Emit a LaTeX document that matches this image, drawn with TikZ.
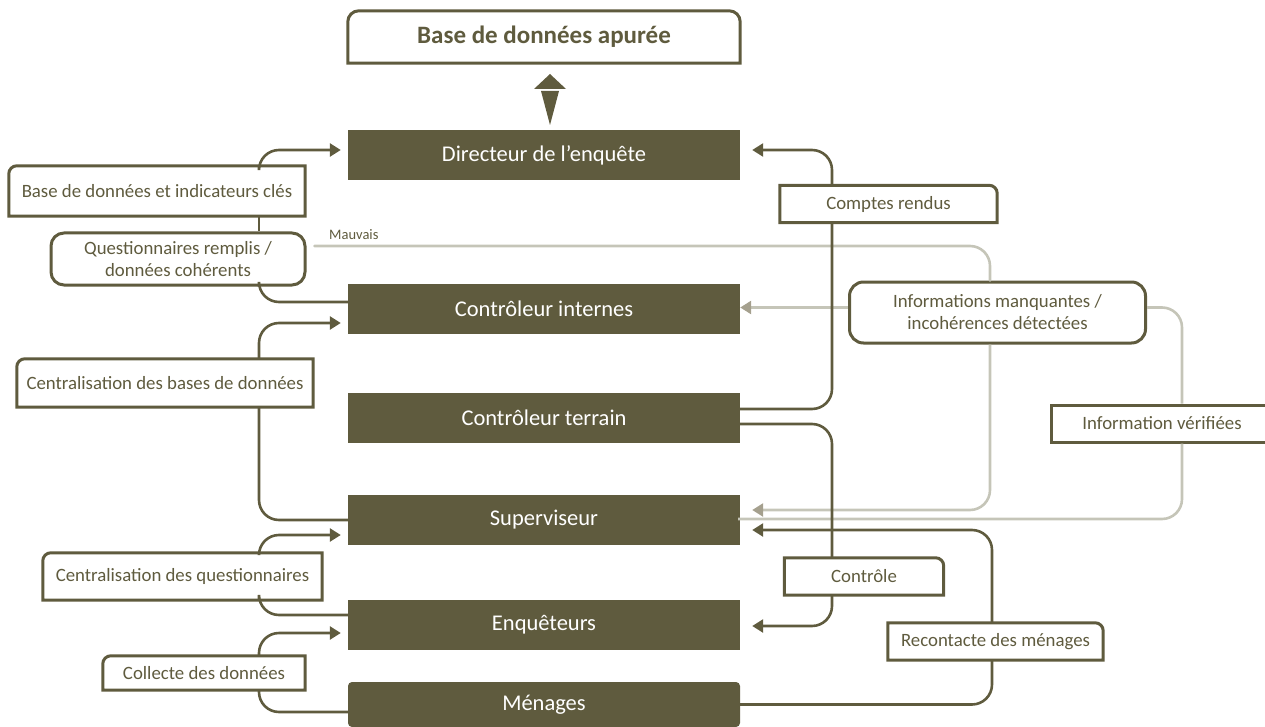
\documentclass[tikz,border=0pt]{standalone}
\usepackage{fontspec}
\setmainfont{Carlito}
\usetikzlibrary{arrows.meta,calc}
\definecolor{eqolive}{RGB}{95,91,62}
\definecolor{eqgray}{RGB}{197,197,184}
\definecolor{eqgraytip}{RGB}{165,160,142}

\begin{document}
\begin{tikzpicture}[x=1pt,y=-1pt,
    actor/.style={fill=eqolive,text=white,minimum width=392pt,minimum height=50pt,inner sep=0pt,
      font=\fontsize{22.5}{24}\selectfont},
    tag/.style={fill=white,text=eqolive,inner sep=0pt,font=\fontsize{18.8}{22}\selectfont,align=center},
    tagline/.style={draw=eqolive,line width=3pt},
    flow/.style={draw=eqolive,line width=2.6pt,rounded corners=20pt},
    back/.style={draw=eqgray,line width=2.6pt,rounded corners=20pt},
    tip/.style={-{Triangle[length=11pt,width=13pt]}}]
  \useasboundingbox (0,0) rectangle (1265,727);

  % acteurs
  \node[tag,minimum width=392pt,minimum height=52pt,font=\fontsize{25}{27}\selectfont\bfseries] (apu) at (544,37) {Base de données apurée};
  \node[actor] (dir) at (544,155) {Directeur de l’enquête};
  \node[actor] (ci) at (544,309) {Contrôleur internes};
  \node[actor] (ct) at (544,418) {Contrôleur terrain};
  \node[actor] (sup) at (544,520) {Superviseur};
  \node[actor] (enq) at (544,625) {Enquêteurs};
  \node[actor,minimum height=45pt,rounded corners=4pt] (men) at (544,704.5) {Ménages};

  % etiquettes
  \node[tag,minimum width=296pt,minimum height=50pt] (bdi) at (157,191) {Base de données et indicateurs clés};
  \node[tag,tagline,rounded corners=13pt,minimum width=254pt,minimum height=52pt] (qr) at (178,259)
    {Questionnaires remplis /\\données cohérents};
  \node[tag,minimum width=296pt,minimum height=48pt] (cbd) at (165,383) {Centralisation des bases de données};
  \node[tag,minimum width=279pt,minimum height=47pt] (cq) at (182.5,576.5) {Centralisation des questionnaires};
  \node[tag,minimum width=202pt,minimum height=34pt] (cd) at (204,673) {Collecte des données};
  \node[tag,minimum width=217pt,minimum height=37pt] (cr) at (888.5,204) {Comptes rendus};
  \node[tag,tagline,rounded corners=14pt,minimum width=296pt,minimum height=61pt] (im) at (997.5,312.5)
    {Informations manquantes /\\incohérences détectées};
  \node[tag,tagline,minimum width=222pt,minimum height=37pt] (iv) at (1162,423.5) {Information vérifiées};
  \node[tag,minimum width=159pt,minimum height=37pt] (ctl) at (864,576.5) {Contrôle};
  \node[tag,minimum width=215pt,minimum height=37pt] (rm) at (995.5,641.5) {Recontacte des ménages};

  \coordinate (lrail) at (259,0);
  \coordinate (crail) at (832,0);
  \coordinate (rrail) at (992,0);
  \coordinate (grail) at (990,0);
  \coordinate (vrail) at (1182,0);

  % retours (gris)
  \draw[back,line cap=round] ([xshift=8pt,yshift=13pt]qr.east) -| (im.north -| grail);
  \node[anchor=south west,text=eqolive,inner sep=0pt,font=\fontsize{14.5}{16}\selectfont] (mv) at (329,240) {Mauvais};
  \draw[back,rounded corners=0pt,-{Triangle[length=11pt,width=13pt,color=eqgraytip]}]
    ([yshift=5pt]im.west) -- ([yshift=5pt]im.west -| ci.east);
  \draw[back,-{Triangle[length=11pt,width=13pt,color=eqgraytip]}]
    (im.south -| grail) |- ([xshift=12pt,yshift=10pt]sup.east);
  \draw[back] ([yshift=5pt]im.east) -| (iv.north -| vrail);
  \draw[back] (iv.south -| vrail) |- ([xshift=-2pt,yshift=1pt]sup.east);

  % flux (gauche)
  \draw[flow] ([yshift=7pt]ci.west) -| (qr.south -| lrail);
  \draw[flow] (bdi.south -| lrail) -- (qr.north -| lrail);
  \draw[flow,tip] (bdi.north -| lrail) |- ([xshift=-7pt,yshift=5pt]dir.west);
  \draw[flow] (sup.west) -| (cbd.south -| lrail);
  \draw[flow,tip] (cbd.north -| lrail) |- ([xshift=-7pt,yshift=-14pt]ci.west);
  \draw[flow] ([yshift=10pt]enq.west) -| (cq.south -| lrail);
  \draw[flow,tip] (cq.north -| lrail) |- ([xshift=-7pt,yshift=-15pt]sup.west);
  \draw[flow] ([yshift=-7.5pt]men.west) -| (cd.south -| lrail);
  \draw[flow,tip] (cd.north -| lrail) |- ([xshift=-7pt,yshift=-8pt]enq.west);

  % flux (droite)
  \draw[flow] ([yshift=9pt]ct.east) -| (cr.south -| crail);
  \draw[flow,tip] (cr.north -| crail) |- ([xshift=12pt,yshift=5pt]dir.east);
  \draw[flow] ([yshift=-6pt]ct.east) -| (ctl.north -| crail);
  \draw[flow,tip] (ctl.south -| crail) |- ([xshift=12pt,yshift=-1pt]enq.east);
  \draw[flow] (men.east) -| (rm.south -| rrail);
  \draw[flow,tip] (rm.north -| rrail) |- ([xshift=12pt,yshift=-10pt]sup.east);

  % cadres
  \draw[tagline] (apu.west) [rounded corners=11pt] -- (apu.north west) -- (apu.north east) -- (apu.east)
    [sharp corners] -- (apu.south east) -- (apu.south west) -- cycle;
  \foreach \n in {bdi,cbd,cq,cd}
    \draw[tagline] (\n.west) [rounded corners=8pt] -- (\n.north west) -- (\n.north)
      [sharp corners] -- (\n.north east) -- (\n.south east) -- (\n.south west) -- cycle;
  \foreach \n in {cr,ctl,rm}
    \draw[tagline] (\n.north) [rounded corners=8pt] -- (\n.north east) -- (\n.east)
      [sharp corners] -- (\n.south east) -- (\n.south west) -- (\n.north west) -- cycle;

  % fleche vers la base apuree
  \fill[eqolive] (550,74) -- (566,89) -- (534,89) -- cycle;
  \fill[eqolive] (541,91) -- (559,91) -- (550,125) -- cycle;
\end{tikzpicture}
\end{document}
